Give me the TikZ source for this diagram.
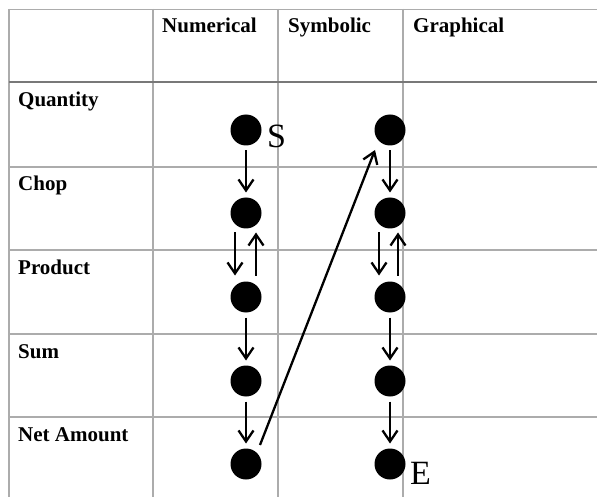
\documentclass[tikz,border=0pt]{standalone}
\usepackage{fontspec}
\setmainfont{Liberation Serif}
\usetikzlibrary{arrows.meta,calc}
\definecolor{gridc}{RGB}{172,172,172}
\definecolor{gridd}{RGB}{120,120,120}
\tikzset{
  gridline/.style={draw=gridc, line width=1.4pt},
  headline/.style={draw=gridd, line width=2pt},
  head/.style={font=\fontsize{21}{24}\selectfont\bfseries, anchor=base west, inner sep=0pt},
  dot/.style={circle, fill=black, minimum size=31pt, inner sep=0pt, outer sep=0pt},
  lab/.style={font=\fontsize{34}{36}\selectfont, anchor=base west, inner sep=0pt},
  arr/.style={line width=2.3pt, -{Straight Barb[length=11pt,width=15pt,line width=2.3pt]}},
  vdown/.style={arr, shorten <=5pt, shorten >=5pt}
}
\begin{document}
\begin{tikzpicture}[x=1pt,y=-1pt]
\useasboundingbox (0,0) rectangle (597,497);
\fill[white] (0,0) rectangle (597,497);
% grid
\foreach \yy in {167,250,334,417} \draw[gridline] (9,\yy) -- (597,\yy);
\draw[gridline] (9,9.5) -- (597,9.5);
\foreach \xx in {9,153,278,403} \draw[gridline] (\xx,9) -- (\xx,497);
\draw[headline] (9,82) -- (597,82);
% headers
\node[head] (hn) at (162,33) {Numerical};
\node[head] (hs) at (288,33) {Symbolic};
\node[head] (hg) at (413,33) {Graphical};
\node[head] (rq) at (18,107) {Quantity};
\node[head] (rc) at (18,191) {Chop};
\node[head] (rp) at (18,274) {Product};
\node[head] (rs) at (18,358) {Sum};
\node[head] (rn) at (18,441) {Net Amount};
% dots
\node[dot] (n1) at (246,130) {};
\node[dot] (n2) at (246,213) {};
\node[dot] (n3) at (246,297) {};
\node[dot] (n4) at (246,381) {};
\node[dot] (n5) at (246,464) {};
\node[dot] (s1) at (390,130) {};
\node[dot] (s2) at (390,213) {};
\node[dot] (s3) at (390,297) {};
\node[dot] (s4) at (390,381) {};
\node[dot] (s5) at (390,464) {};
\node[lab] (S) at (267,148) {S};
\node[lab] (E) at (410,484) {E};
% arrows numerical
\draw[vdown] (n1) -- (n2);
\draw[arr] ($(n2.south)+(-11,4)$) -- ($(n3.north)+(-11,-6)$);
\draw[arr] ($(n3.north)+(10,-6)$) -- ($(n2.south)+(10,4)$);
\draw[vdown] (n3) -- (n4);
\draw[vdown] (n4) -- (n5);
% arrows symbolic
\draw[vdown] (s1) -- (s2);
\draw[arr] ($(s2.south)+(-11,4)$) -- ($(s3.north)+(-11,-6)$);
\draw[arr] ($(s3.north)+(8,-6)$) -- ($(s2.south)+(8,4)$);
\draw[vdown] (s3) -- (s4);
\draw[vdown] (s4) -- (s5);
% diagonal
\draw[arr] ($(n5)+(14,-19)$) -- ($(s1)+(-15,20)$);
\end{tikzpicture}
\end{document}
